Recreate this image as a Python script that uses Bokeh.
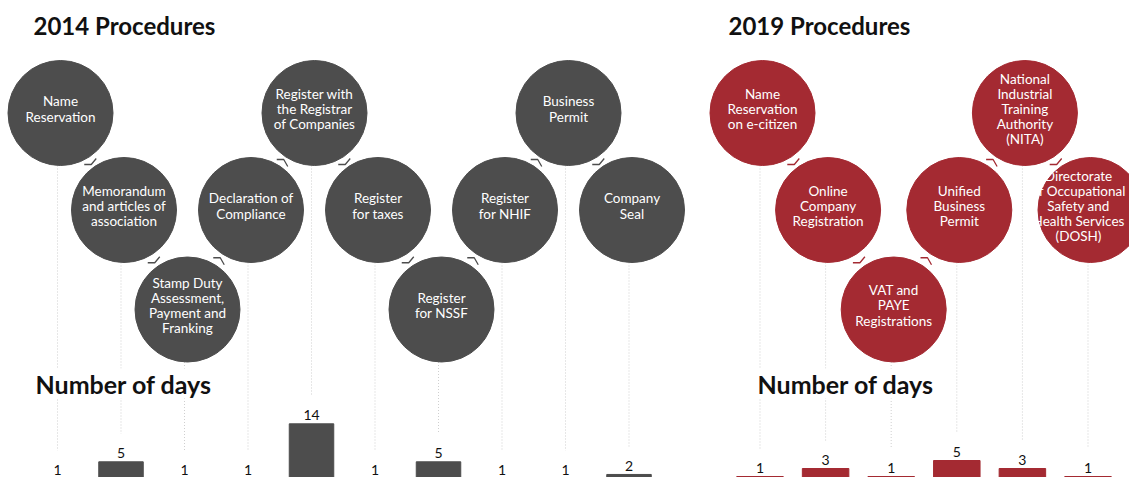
from bokeh.plotting import figure
from bokeh.models import Range1d, Label, ColumnDataSource
from bokeh.core.properties import value
from bokeh.embed import file_html
from bokeh.resources import INLINE

# ---------------- data ----------------
steps_2014 = [
    "Name\nReservation",
    "Memorandum\nand articles of\nassociation",
    "Stamp Duty\nAssessment,\nPayment and\nFranking",
    "Declaration of\nCompliance",
    "Register with\nthe Registrar\nof Companies",
    "Register\nfor taxes",
    "Register\nfor NSSF",
    "Register\nfor NHIF",
    "Business\nPermit",
    "Company\nSeal",
]
days_2014 = [1, 5, 1, 1, 14, 1, 5, 1, 1, 2]

steps_2019 = [
    "Name\nReservation\non e-citizen",
    "Online\nCompany\nRegistration",
    "VAT and\nPAYE\nRegistrations",
    "Unified\nBusiness\nPermit",
    "National\nIndustrial\nTraining\nAuthority\n(NITA)",
    "Directorate\nof Occupational\nSafety and\nHealth Services\n(DOSH)",
]
days_2019 = [1, 3, 1, 5, 3, 1]

titles = ["2014 Procedures", "2019 Procedures"]
subtitle = "Number of days"

# ---------------- layout / style ----------------
W, H = 1129, 477
GRAY = "#4d4d4d"
RED = "#a42a32"
FONT = "Lato"
R = 52.5
ROW_Y = [112.5, 209.5, 309.0]
ZIG = [0, 1, 2, 1]
LAB_GAP = 8.5

panels = [
    dict(steps=steps_2014, days=days_2014, x0=57.0, dx=63.5, cx_off=3.0,
         base=482.4, k=4.22, bw=44.5, color=GRAY, title_x=33, sub_x=35),
    dict(steps=steps_2019, days=days_2019, x0=759.5, dx=65.6, cx_off=2.5,
         base=480.0, k=4.0, bw=46.5, color=RED, title_x=728, sub_x=757),
]

p = figure(width=W, height=H, output_backend="svg", toolbar_location=None,
           x_range=Range1d(0, W), y_range=Range1d(H, 0),
           x_axis_location=None, y_axis_location=None, min_border=0,
           background_fill_color="white", border_fill_color="white")
p.grid.visible = False
p.outline_line_color = None

for pan in panels:
    n = len(pan["steps"])
    col_x = [pan["x0"] + i * pan["dx"] for i in range(n)]
    cx = [x + pan["cx_off"] for x in col_x]
    cy = [ROW_Y[ZIG[i % 4]] for i in range(n)]
    tops = [pan["base"] - d * pan["k"] for d in pan["days"]]

    # dotted guide lines
    xs = [[x, x] for x in col_x]
    ys = [[c + R, t - 28] for c, t in zip(cy, tops)]
    p.multi_line(xs=xs, ys=ys, line_color="#cfcfcf", line_width=1, line_dash="1 2")

    # connectors between consecutive circles
    cxs, cys = [], []
    for i in range(n - 1):
        mx = (cx[i] + cx[i + 1]) / 2
        my = (cy[i] + cy[i + 1]) / 2
        if cy[i + 1] > cy[i]:
            ccx, ccy = mx - 1, my + 3
            cxs.append([ccx - 7, ccx, ccx + 5])
            cys.append([ccy, ccy, ccy - 6])
        else:
            ccx, ccy = mx + 1, my - 2
            cxs.append([ccx - 7, ccx, ccx + 4])
            cys.append([ccy, ccy, ccy + 7])
    p.multi_line(xs=cxs, ys=cys, line_color=pan["color"], line_width=1.3)

    # circles (labels kept inside the canvas)
    tx = [min(x, W - 51) for x in cx]
    src = ColumnDataSource(dict(x=cx, y=cy, tx=tx, ty=[c - 4 for c in cy],
                                label=pan["steps"]))
    p.circle(x="x", y="y", radius=R, source=src, fill_color=pan["color"],
             line_color=pan["color"])
    p.text(x="tx", y="ty", text="label", source=src, text_color="white",
           text_font=value(FONT), text_font_size="13.5px", text_align="center",
           text_baseline="middle", text_line_height=0.94)

    # bars
    bsrc = ColumnDataSource(dict(x=col_x, top=tops, bottom=[pan["base"]] * n,
                                 lab=[str(d) for d in pan["days"]],
                                 ly=[t - LAB_GAP for t in tops]))
    p.vbar(x="x", width=pan["bw"], top="top", bottom="bottom", source=bsrc,
           fill_color=pan["color"], line_color=pan["color"])
    p.text(x="x", y="ly", text="lab", source=bsrc, text_color="#111111",
           text_font=value(FONT), text_font_size="14px", text_align="center",
           text_baseline="alphabetic")

for pan, t in zip(panels, titles):
    p.add_layout(Label(x=pan["title_x"], y=25, text=t, text_font=FONT,
                       text_font_size="24px", text_font_style="bold",
                       text_color="#111111", text_baseline="alphabetic"))
    p.add_layout(Label(x=pan["sub_x"], y=383, text=subtitle, text_font=FONT,
                       text_font_size="25px", text_font_style="bold",
                       text_color="#111111", text_baseline="alphabetic",
                       background_fill_color="white"))

open("out.html", "w").write(file_html(p, INLINE))
